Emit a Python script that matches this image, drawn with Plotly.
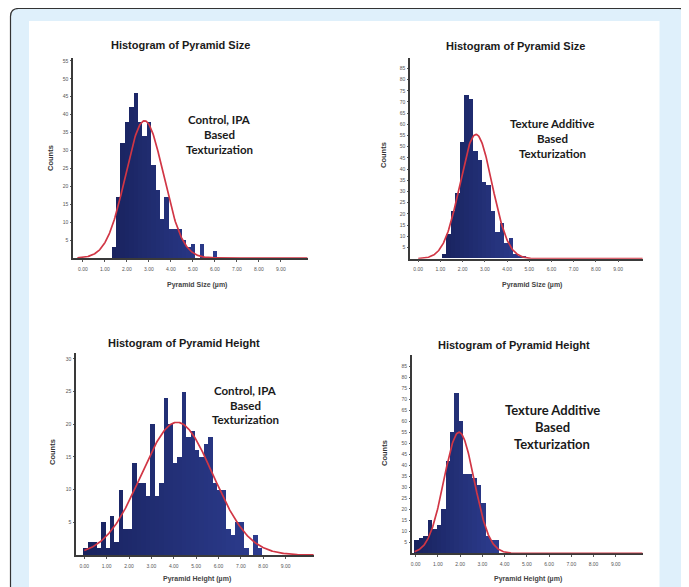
import numpy as np
import plotly.graph_objects as go

# The page body has an 8 px margin, so the figure is drawn 8 px smaller and
# every reference pixel coordinate is shifted by that offset.
PAGE_W, PAGE_H = 689, 587
OFF = 8
W, H = PAGE_W - OFF, PAGE_H - OFF

# ---------------- data ----------------
x_tick_values = [0, 1, 2, 3, 4, 5, 6, 7, 8, 9]
x_tick_labels = ["0.00", "1.00", "2.00", "3.00", "4.00", "5.00", "6.00", "7.00", "8.00", "9.00"]

# Panel 1: Control, IPA - pyramid size
size_ctrl_bin_start = 1.3
size_ctrl_bin_width = 0.2
size_ctrl_counts = [3, 17, 32, 38, 42, 46, 38, 34, 38, 26, 19, 11, 17, 8, 8, 8, 5, 3, 4, 0, 4, 0, 0, 2]
size_ctrl_fit = {"mean": 2.8, "sd": 0.86, "peak": 38.3, "from": -0.25, "to": 10.2}
size_ctrl_yticks = [5, 10, 15, 20, 25, 30, 35, 40, 45, 50, 55]

# Panel 2: Texture additive - pyramid size
size_add_bin_start = 1.07
size_add_bin_width = 0.2
size_add_counts = [2, 11, 21, 29, 52, 73, 71, 48, 44, 34, 33, 21, 12, 16, 7, 9, 2, 1, 1]
size_add_fit = {"mean": 2.6, "sd": 0.72, "peak": 55.5, "from": 0.0, "to": 10.1}
size_add_yticks = list(range(5, 90, 5))

# Panel 3: Control, IPA - pyramid height
height_ctrl_bin_start = -0.05
height_ctrl_bin_width = 0.2
height_ctrl_counts = [1, 2, 2, 1, 5, 1, 6, 2, 10, 4, 4, 14, 11, 11, 9, 20, 9, 11, 24, 20,
                      14, 15, 25, 18, 19, 16, 15, 17, 18, 11, 10, 10, 4, 3, 5, 5, 1, 0, 3, 1]
height_ctrl_fit = {"mean": 4.15, "sd": 1.6, "peak": 20.3, "from": 0.0, "to": 10.25}
height_ctrl_yticks = [5, 10, 15, 20, 25, 30]

# Panel 4: Texture additive - pyramid height
height_add_bin_start = -0.07
height_add_bin_width = 0.2
height_add_counts = [6, 7, 8, 15, 11, 13, 20, 42, 55, 73, 60, 36, 36, 34, 31, 23, 8, 6, 6]
height_add_fit = {"mean": 1.95, "sd": 0.68, "peak": 55.0, "from": -0.05, "to": 10.2}
height_add_yticks = list(range(5, 90, 5))

# ---------------- layout helpers (page pixel -> paper) ----------------
def fx(x):
    return (x - OFF) / W

def fy(y):
    return 1 - (y - OFF) / H

BAR_SCALE = [[0, "#19235f"], [1, "#2c3c8e"]]
CURVE_COLOR = "#d13645"
AXIS_COLOR = "#3a3a3a"
TICK_FONT = dict(family="Liberation Sans, Arial", size=5, color="#555555")

panels = [
    dict(counts=size_ctrl_counts, start=size_ctrl_bin_start, width=size_ctrl_bin_width,
         fit=size_ctrl_fit, yticks=size_ctrl_yticks,
         left=73, right=308, bottom=258, top=58, xr=[-0.45, 10.23], ytop=55.8,
         title="Histogram of Pyramid Size", title_pos=(180, 45),
         ytitle_pos=(50, 158), xtitle="Pyramid Size (µm)", xtitle_pos=(197, 285),
         note=["Control, IPA", "Based", "Texturization"], note_x=220, note_y=[120, 135, 149], note_size=11.5),
    dict(counts=size_add_counts, start=size_add_bin_start, width=size_add_bin_width,
         fit=size_add_fit, yticks=size_add_yticks,
         left=410, right=643, bottom=258.7, top=58.3, xr=[-0.37, 10.12], ytop=89.5,
         title="Histogram of Pyramid Size", title_pos=(515, 46),
         ytitle_pos=(383, 155), xtitle="Pyramid Size (µm)", xtitle_pos=(532, 285),
         note=["Texture Additive", "Based", "Texturization"], note_x=552, note_y=[124, 138, 153], note_size=11.5),
    dict(counts=height_ctrl_counts, start=height_ctrl_bin_start, width=height_ctrl_bin_width,
         fit=height_ctrl_fit, yticks=height_ctrl_yticks,
         left=76, right=314, bottom=555, top=353, xr=[-0.37, 10.27], ytop=30.9,
         title="Histogram of Pyramid Height", title_pos=(184, 343),
         ytitle_pos=(53, 452), xtitle="Pyramid Height (µm)", xtitle_pos=(197, 579),
         note=["Control, IPA", "Based", "Texturization"], note_x=245, note_y=[390, 405, 419], note_size=11.5),
    dict(counts=height_add_counts, start=height_add_bin_start, width=height_add_bin_width,
         fit=height_add_fit, yticks=height_add_yticks,
         left=411.7, right=643.3, bottom=553.3, top=355, xr=[-0.18, 10.24], ytop=90.1,
         title="Histogram of Pyramid Height", title_pos=(514, 345),
         ytitle_pos=(384, 453), xtitle="Pyramid Height (µm)", xtitle_pos=(528, 579),
         note=["Texture Additive", "Based", "Texturization"], note_x=552, note_y=[410, 427, 444], note_size=13),
]

fig = go.Figure()
layout_axes = {}
annotations = []

for i, p in enumerate(panels, start=1):
    xa = "x" if i == 1 else f"x{i}"
    ya = "y" if i == 1 else f"y{i}"
    counts = p["counts"]
    centers = [p["start"] + p["width"] * (k + 0.5) for k in range(len(counts))]
    fig.add_trace(go.Bar(
        x=centers, y=counts, width=p["width"], xaxis=xa, yaxis=ya,
        marker=dict(color=centers, colorscale=BAR_SCALE, cmin=min(centers), cmax=max(centers),
                    line=dict(width=0)),
        hoverinfo="x+y", showlegend=False,
    ))
    f = p["fit"]
    xs = np.linspace(f["from"], f["to"], 400)
    ys = f["peak"] * np.exp(-0.5 * ((xs - f["mean"]) / f["sd"]) ** 2)
    fig.add_trace(go.Scatter(
        x=xs, y=ys, mode="lines", xaxis=xa, yaxis=ya,
        line=dict(color=CURVE_COLOR, width=1.7), hoverinfo="skip", showlegend=False,
    ))

    xkey = "xaxis" if i == 1 else f"xaxis{i}"
    ykey = "yaxis" if i == 1 else f"yaxis{i}"
    layout_axes[xkey] = dict(
        domain=[fx(p["left"]), fx(p["right"])], anchor=ya, range=p["xr"],
        showgrid=False, zeroline=False, showline=True, linecolor=AXIS_COLOR, linewidth=1.5,
        ticks="outside", ticklen=2, tickcolor="#555555", tickwidth=1,
        tickvals=x_tick_values, ticktext=x_tick_labels, tickfont=TICK_FONT,
        ticklabelstandoff=3, layer="below traces", fixedrange=True,
    )
    layout_axes[ykey] = dict(
        domain=[fy(p["bottom"]), fy(p["top"])], anchor=xa, range=[0, p["ytop"]],
        showgrid=False, zeroline=False, showline=True, linecolor=AXIS_COLOR, linewidth=1.5,
        ticks="outside", ticklen=1, tickcolor="#555555",
        tickvals=p["yticks"], ticktext=[str(v) for v in p["yticks"]], tickfont=TICK_FONT,
        ticklabelstandoff=1, layer="below traces", fixedrange=True,
    )

    tx, ty = p["title_pos"]
    annotations.append(dict(text=f"<b>{p['title']}</b>", x=fx(tx), y=fy(ty), xref="paper", yref="paper",
                            showarrow=False, xanchor="center", yanchor="middle",
                            font=dict(family="Liberation Sans, Arial", size=11, color="#1a1a1a")))
    yx, yy = p["ytitle_pos"]
    annotations.append(dict(text="<b>Counts</b>", x=fx(yx), y=fy(yy), xref="paper", yref="paper",
                            showarrow=False, textangle=-90, xanchor="center", yanchor="middle",
                            font=dict(family="Liberation Sans, Arial", size=7.5, color="#333333")))
    xx, xy = p["xtitle_pos"]
    annotations.append(dict(text=f"<b>{p['xtitle']}</b>", x=fx(xx), y=fy(xy), xref="paper", yref="paper",
                            showarrow=False, xanchor="center", yanchor="middle",
                            font=dict(family="Liberation Sans, Arial", size=7, color="#444444")))
    for line, ly in zip(p["note"], p["note_y"]):
        annotations.append(dict(text=f"<b>{line}</b>", x=fx(p["note_x"]), y=fy(ly), xref="paper", yref="paper",
                                showarrow=False, xanchor="center", yanchor="middle",
                                font=dict(family="Lato, Open Sans", size=p["note_size"], color="#1a1a1a")))

# ---------------- frame (rounded dark border, light blue band, white sheet) ----------------
def P(x, y):
    return f"{fx(x):.5f},{fy(y):.5f}"

r = 8
x0, y0, x1, y1 = 10.5, 8.5, 687, 640
frame_path = (f"M {P(x0 + r, y0)} L {P(x1 - r, y0)} Q {P(x1, y0)} {P(x1, y0 + r)} "
              f"L {P(x1, y1 - r)} Q {P(x1, y1)} {P(x1 - r, y1)} L {P(x0 + r, y1)} "
              f"Q {P(x0, y1)} {P(x0, y1 - r)} L {P(x0, y0 + r)} Q {P(x0, y0)} {P(x0 + r, y0)} Z")
shapes = [
    dict(type="path", path=frame_path, xref="paper", yref="paper", layer="below",
         fillcolor="#dff0fb", line=dict(color="#333333", width=1.2)),
    dict(type="rect", x0=fx(29), x1=fx(659.5), y0=fy(640), y1=fy(21), xref="paper", yref="paper",
         layer="below", fillcolor="#ffffff", line=dict(width=0)),
]

fig.update_layout(
    width=W, height=H, margin=dict(l=0, r=0, t=0, b=0),
    paper_bgcolor="#ffffff", plot_bgcolor="rgba(0,0,0,0)",
    showlegend=False, bargap=0, barmode="overlay",
    annotations=annotations, shapes=shapes, **layout_axes,
)

fig.write_html("out.html")
